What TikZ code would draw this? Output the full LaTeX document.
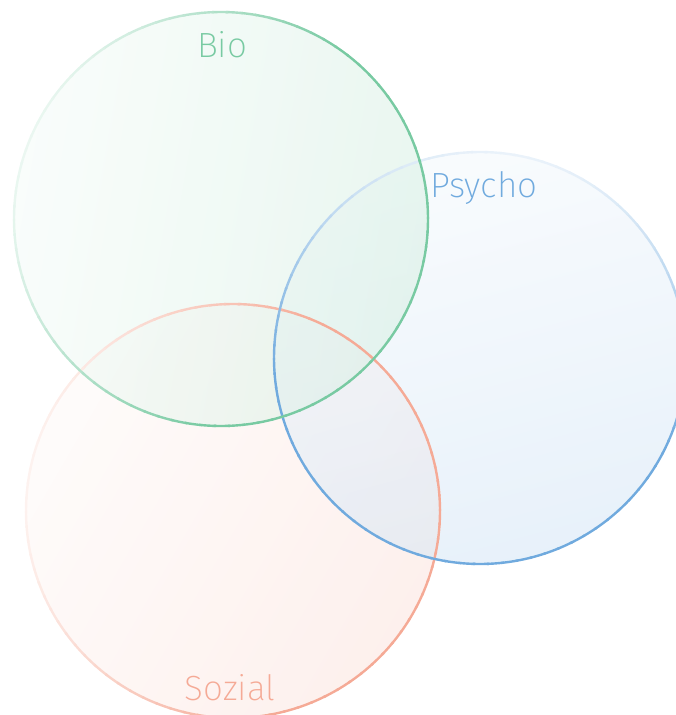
\documentclass[tikz,border=0pt]{standalone}
\usepackage{fontspec}
\setmainfont{Fira Sans}[UprightFont={* ExtraLight}]
\definecolor{biogreen}{RGB}{120,202,162}
\definecolor{psyblue}{RGB}{112,170,222}
\definecolor{sozred}{RGB}{245,170,150}
\tikzset{
  circfill/.style = {fill opacity=0.55, draw=none},
  circline/.style = {line width=2.4pt},
  label/.style    = {font=\fontsize{35}{40}\selectfont, inner sep=0pt}
}

\begin{document}
\begin{tikzpicture}[x=1pt, y=1pt]
  \useasboundingbox (0,0) rectangle (676,-715);

  % fills
  \shade[circfill, left color=sozred!8, right color=sozred!32, shading angle=60]
    (233,-511) circle (207);
  \shade[circfill, top color=psyblue!8, bottom color=psyblue!30, shading angle=15]
    (480,-358) circle (206);
  \shade[circfill, left color=biogreen!8, right color=biogreen!30, shading angle=80]
    (221,-219) circle (207);

  % outlines, light on one side and full colour on the other
  \foreach \cx/\cy/\r/\col/\dark in {233/-511/207/sozred/-10,
                                     480/-358/206/psyblue/-100,
                                     221/-219/207/biogreen/-20}
    \foreach \a in {0,4,...,356} {
      \pgfmathsetmacro\mix{min(100,15+135*(1+cos(\a+2-\dark))/2)}
      \draw[circline, \col!\mix!white]
        ([shift={(\a:\r)}]\cx,\cy) arc (\a:\a+4.6:\r);
    }

  \node[label, text=biogreen] (bio) at (222,-45) {Bio};
  \node[label, text=psyblue] (psycho) at (484,-188) {Psycho};
  \node[label, text=sozred] (sozial) at (230,-688) {Sozial};
\end{tikzpicture}
\end{document}
